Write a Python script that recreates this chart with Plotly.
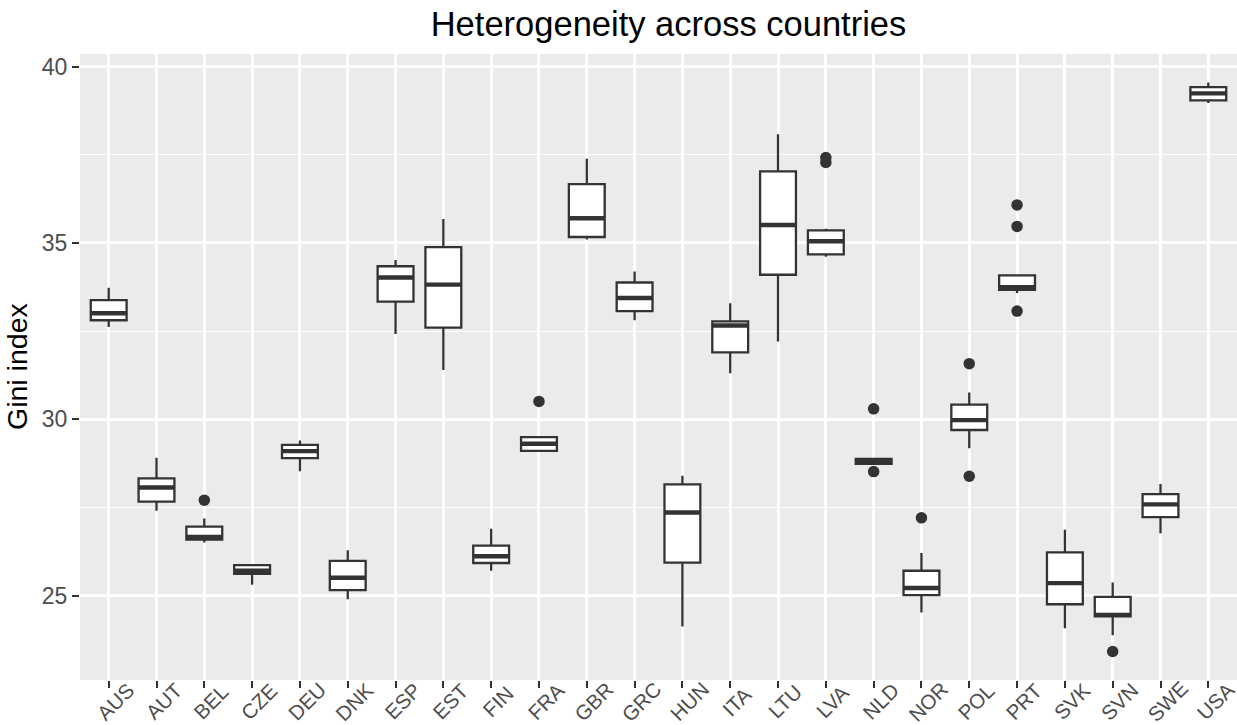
import plotly.graph_objects as go

countries = ["AUS", "AUT", "BEL", "CZE", "DEU", "DNK", "ESP", "EST", "FIN", "FRA", "GBR", "GRC",
             "HUN", "ITA", "LTU", "LVA", "NLD", "NOR", "POL", "PRT", "SVK", "SVN", "SWE", "USA"]
lower_whisker = [32.62, 27.41, 26.51, 25.31, 28.53, 24.90, 32.42, 31.40, 25.71, 29.08, 35.10, 32.81,
                 24.13, 31.31, 32.21, 34.61, 28.71, 24.53, 29.18, 33.58, 24.08, 23.88, 26.77, 38.97]
q1 = [32.81, 27.67, 26.59, 25.62, 28.90, 25.16, 33.34, 32.60, 25.93, 29.11, 35.17, 33.07,
      25.94, 31.90, 34.10, 34.68, 28.74, 25.02, 29.70, 33.67, 24.76, 24.42, 27.23, 39.04]
median = [33.01, 28.07, 26.67, 25.71, 29.10, 25.51, 34.02, 33.82, 26.12, 29.31, 35.70, 33.44,
          27.36, 32.66, 35.51, 35.05, 28.81, 25.22, 29.98, 33.75, 25.36, 24.46, 27.59, 39.24]
q3 = [33.38, 28.33, 26.96, 25.87, 29.28, 25.99, 34.34, 34.88, 26.42, 29.50, 36.67, 33.88,
      28.16, 32.78, 37.03, 35.36, 28.88, 25.71, 30.42, 34.08, 26.23, 24.97, 27.88, 39.42]
upper_whisker = [33.73, 28.91, 27.19, 25.89, 29.40, 26.29, 34.52, 35.68, 26.90, 29.52, 37.39, 34.19,
                 28.40, 33.29, 38.08, 35.40, 28.90, 26.21, 30.76, 34.10, 26.87, 25.38, 28.17, 39.55]
outlier_country = ["BEL", "FRA", "LVA", "LVA", "NLD", "NLD", "NOR", "POL", "POL",
                   "PRT", "PRT", "PRT", "SVN"]
outlier_value = [27.71, 30.51, 37.42, 37.28, 30.30, 28.52, 27.21, 31.58, 28.39,
                 36.08, 35.47, 33.07, 23.42]
y_ticks = [25, 30, 35, 40]

title_text = "Heterogeneity across countries"
y_title = "Gini index"

DARK = "#333333"
BOX_W = 0.75
pos = list(range(len(countries)))
idx = {c: i for i, c in enumerate(countries)}

fig = go.Figure()
fig.add_trace(go.Box(
    x=pos, q1=q1, median=median, q3=q3,
    lowerfence=lower_whisker, upperfence=upper_whisker,
    width=BOX_W, whiskerwidth=0, boxpoints=False,
    fillcolor="white", line=dict(color=DARK, width=2.3),
    showlegend=False, hoverinfo="skip",
))

# thick median bars (ggplot fatten)
mx, my = [], []
for i, m in zip(pos, median):
    mx += [i - BOX_W / 2, i + BOX_W / 2, None]
    my += [m, m, None]
fig.add_trace(go.Scatter(x=mx, y=my, mode="lines", line=dict(color=DARK, width=4.4),
                         showlegend=False, hoverinfo="skip"))

fig.add_trace(go.Scatter(
    x=[idx[c] for c in outlier_country], y=outlier_value, mode="markers",
    marker=dict(color=DARK, size=11.5, line=dict(width=0)),
    showlegend=False, hoverinfo="skip",
))

ymin = min(min(lower_whisker), min(outlier_value))
ymax = max(max(upper_whisker), max(outlier_value))
pad = 0.05 * (ymax - ymin)

# rotated category labels (ggplot angle=45 about top-centre anchor)
annotations = [dict(text=c, textangle=-45, xref="x", yref="paper", x=i, y=0,
                    xshift=6.5, yshift=-21, xanchor="center", yanchor="middle",
                    showarrow=False, font=dict(size=20.5, color="#4D4D4D"))
               for i, c in zip(pos, countries)]
annotations.append(dict(text=y_title, textangle=-90, xref="paper", yref="paper",
                        x=(17 - 80) / 1157, y=0.5, xanchor="center", yanchor="middle",
                        showarrow=False, font=dict(size=28.5, color="black")))

fig.update_layout(
    width=1237, height=725,
    margin=dict(l=80, r=0, t=54, b=45),
    paper_bgcolor="white", plot_bgcolor="#EBEBEB",
    font=dict(family="Liberation Sans, Arial, sans-serif", color="#4D4D4D"),
    title=dict(text=title_text, x=668.5 / 1237, xanchor="center", y=1 - 24 / 725, yanchor="middle",
               xref="container", yref="container", font=dict(size=34.5, color="black")),
    annotations=annotations,
)
fig.update_xaxes(
    range=[-0.6, len(countries) - 0.4], tickmode="array", tickvals=pos, showticklabels=False,
    showgrid=True, gridcolor="white", gridwidth=2.5, zeroline=False,
    ticks="outside", ticklen=7, tickwidth=2, tickcolor=DARK, showline=False,
    automargin=False,
)
fig.update_yaxes(
    range=[ymin - pad, ymax + pad], tickmode="array", tickvals=y_ticks,
    tickfont=dict(size=23, color="#4D4D4D"),
    showgrid=True, gridcolor="white", gridwidth=2.5, zeroline=False,
    ticks="outside", ticklen=7, tickwidth=2, tickcolor=DARK, showline=False,
    minor=dict(tickvals=[22.5, 27.5, 32.5, 37.5], showgrid=True, gridcolor="white", gridwidth=1.3, ticks=""),
    automargin=False,
)

fig.write_html("out.html", config={"displayModeBar": False},
               post_script="document.body.style.margin='0';")
